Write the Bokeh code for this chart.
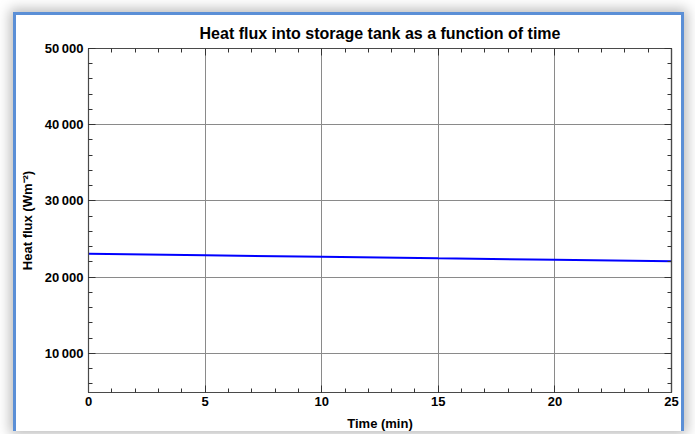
from bokeh.plotting import figure
from bokeh.models import FixedTicker, LinearAxis, Range1d
from bokeh.embed import file_html
from bokeh.resources import INLINE

# data
time_min = [0, 5, 10, 15, 20, 25]
heat_flux = [23080, 22880, 22680, 22480, 22290, 22100]

x_ticks = [0, 5, 10, 15, 20, 25]
x_minor = list(range(0, 26))
y_ticks = [10000, 20000, 30000, 40000, 50000]
y_minor = list(range(0, 50001, 2000))
y_tick_labels = ["10\u2009000", "20\u2009000", "30\u2009000", "40\u2009000", "50\u2009000"]

FONT = "Liberation Sans"

p = figure(
    width=671, height=419,
    x_range=Range1d(0, 25), y_range=Range1d(4880, 50000),
    output_backend="svg", toolbar_location=None,
    min_border_left=72, min_border_right=16, min_border_top=33, min_border_bottom=42,
    x_axis_location=None, y_axis_location=None,
    styles={
        "border-left": "3px solid #5b8fd6",
        "border-top": "3px solid #5b8fd6",
        "border-right": "3px solid #5b8fd6",
        "margin-left": "13px",
        "margin-top": "12px",
        "box-shadow": "0 0 12px 3px rgba(0,0,0,0.28)",
        "background": "white",
    },
)

p.title.text = "Heat flux into storage tank as a function of time"
p.title.align = "center"
p.title.vertical_align = "top"
p.title.text_font = FONT
p.title.text_font_size = "16px"
p.title.text_font_style = "bold"
p.title.text_color = "black"
p.title.offset = 0
p.title.standoff = 10

xt = FixedTicker(ticks=x_ticks, minor_ticks=x_minor)
yt = FixedTicker(ticks=y_ticks, minor_ticks=y_minor)
ylab = {v: s for v, s in zip(y_ticks, y_tick_labels)}

def base_axis(ax):
    ax.axis_line_color = "#4a4a4a"
    ax.axis_line_width = 1.2
    ax.major_tick_line_color = "#333333"
    ax.minor_tick_line_color = "#333333"
    ax.major_tick_out = 0
    ax.minor_tick_out = 0

def label_axis(ax):
    base_axis(ax)
    ax.major_tick_in = 7
    ax.minor_tick_in = 4
    ax.major_label_text_font = FONT
    ax.major_label_text_font_style = "bold"
    ax.major_label_text_font_size = "13px"
    ax.major_label_text_color = "black"
    ax.axis_label_text_font = FONT
    ax.axis_label_text_font_style = "bold"
    ax.axis_label_text_font_size = "13px"
    ax.axis_label_text_color = "black"

xb = LinearAxis(ticker=xt, axis_label="Time (min)")
label_axis(xb)
xb.major_label_standoff = 4
xb.axis_label_standoff = 7
p.add_layout(xb, "below")

yl = LinearAxis(ticker=yt, axis_label="Heat flux (Wm\u207b\u00b2)")
label_axis(yl)
yl.major_label_overrides = ylab
yl.major_label_standoff = 5
yl.axis_label_standoff = 7
p.add_layout(yl, "left")

# tick-only frame axes on top and right (no labels)
for loc, major, minor in (("above", x_ticks, x_minor), ("right", y_ticks, y_minor)):
    a_major = LinearAxis(ticker=FixedTicker(ticks=[], minor_ticks=major))
    base_axis(a_major)
    a_major.minor_tick_in = 7
    a_major.major_label_standoff = 2
    a_major.axis_label_standoff = 0
    p.add_layout(a_major, loc)
    a_minor = LinearAxis(ticker=FixedTicker(ticks=[], minor_ticks=minor))
    base_axis(a_minor)
    a_minor.minor_tick_in = 4
    a_minor.major_label_standoff = 2
    a_minor.axis_label_standoff = 0
    p.add_layout(a_minor, loc)

p.xgrid.ticker = xt
p.ygrid.ticker = yt
for g in (p.xgrid, p.ygrid):
    g.grid_line_color = "#8a8a8a"
    g.grid_line_width = 1

p.outline_line_color = "#4a4a4a"
p.background_fill_color = "white"
p.border_fill_color = "white"

p.line(time_min, heat_flux, line_color="#0000ff", line_width=2)

open("out.html", "w").write(file_html(p, INLINE))
